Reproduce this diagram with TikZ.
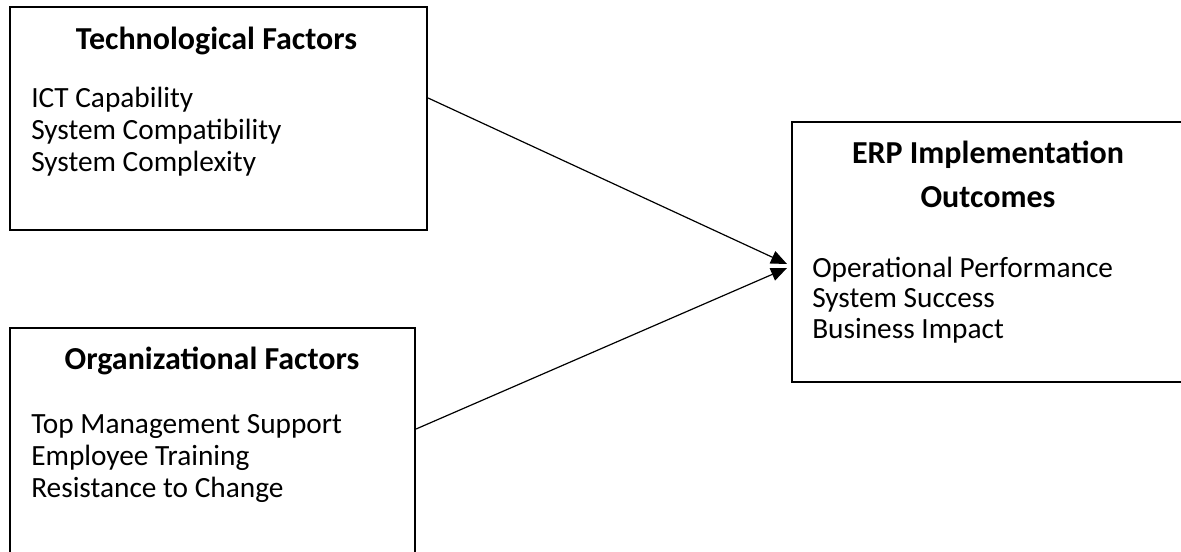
\documentclass[tikz,border=0pt]{standalone}
\usepackage{fontspec}
\setmainfont{Carlito}
\usetikzlibrary{arrows.meta}
\begin{document}
\begin{tikzpicture}[x=0.75pt,y=-0.75pt,
  box/.style={draw=black,line width=1.6pt,inner sep=0pt,rectangle},
  openbox/.style={inner sep=0pt,rectangle},
  boxline/.style={draw=black,line width=1.6pt},
  txt/.style={inner sep=0pt,font=\fontsize{22}{26}\selectfont},
  ttl/.style={inner sep=0pt,font=\fontsize{24}{28}\selectfont\bfseries,anchor=base},
  item/.style={txt,anchor=base west},
  conn/.style={draw=black,line width=0.9pt,-{Triangle[length=12pt,width=10pt]}}]
\useasboundingbox (0,0) rectangle (1181,552);
% boxes
\node[box,minimum width=312.75pt,minimum height=167.25pt] (tech) at (218.5,118.5) {};
\node[box,minimum width=303.75pt,minimum height=180pt] (org) at (212.5,448) {};
\node[openbox,minimum width=300pt,minimum height=195pt] (erp) at (992,252) {};
\draw[boxline] (erp.north east) -- (erp.north west) -- (erp.south west) -- (erp.south east);
% texts
\node[ttl] (techT) at (216.5,50) {Technological Factors};
\node[item] (t1) at (31,108) {ICT Capability};
\node[item] (t2) at (31,140) {System Compatibility};
\node[item] (t3) at (31,172) {System Complexity};
\node[ttl] (orgT) at (212,369) {Organizational Factors};
\node[item] (o1) at (31,433) {Top Management Support};
\node[item] (o2) at (31,465) {Employee Training};
\node[item] (o3) at (31,497) {Resistance to Change};
\node[ttl] (erpT1) at (988,164) {ERP Implementation};
\node[ttl] (erpT2) at (988,208) {Outcomes};
\node[item] (e1) at (812,277) {Operational Performance};
\node[item] (e2) at (812,307) {System Success};
\node[item] (e3) at (812,338) {Business Impact};
% connectors
\coordinate (s1) at (tech.east |- 0,98);
\coordinate (s2) at (org.east |- 0,429);
\coordinate (a1) at (787,264);
\coordinate (a2) at (787,268);
\draw[conn] (s1) -- (a1);
\draw[conn] (s2) -- (a2);
\end{tikzpicture}
\end{document}
